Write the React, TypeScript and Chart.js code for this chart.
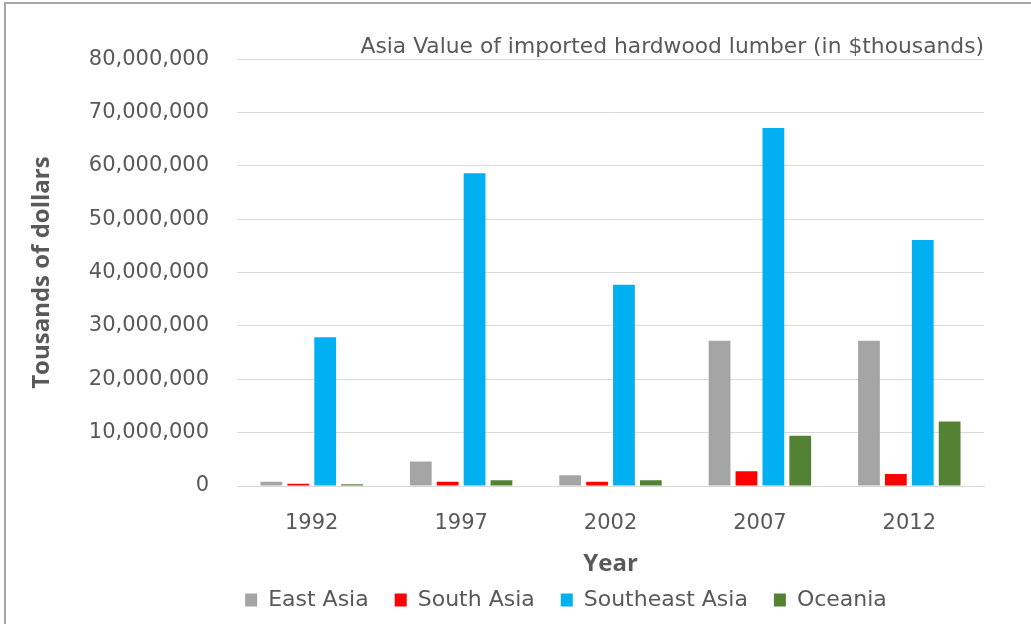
import React, { useEffect, useRef } from "react";
import { Chart, registerables } from "chart.js";

Chart.register(...registerables);

const categories = ["1992", "1997", "2002", "2007", "2012"];
const seriesNames = ["East Asia", "South Asia", "Southeast Asia", "Oceania"];
const eastAsia = [800000, 4600000, 2000000, 27200000, 27200000];
const southAsia = [400000, 800000, 800000, 2750000, 2250000];
const southeastAsia = [27900000, 58600000, 37700000, 67100000, 46100000];
const oceania = [350000, 1070000, 1070000, 9400000, 12100000];
const seriesColors = ["#A5A5A5", "#FF0000", "#00B0F0", "#548235"];
const yMin = 0;
const yMax = 80000000;
const yStep = 10000000;
const titleText = "Asia Value of imported hardwood lumber (in $thousands)";
const xTitle = "Year";
const yTitle = "Tousands of dollars";

const FONT = "'DejaVu Sans', sans-serif";
const BOLD = "'Open Sans', 'DejaVu Sans', sans-serif";
const TEXT = "#595959";

const legendShift = {
  id: "legendShift",
  afterLayout(chart: any) {
    const l = chart.legend;
    if (l) {
      const s = 70;
      l.left += s;
      l.right += s;
    }
  },
};

export default function App() {
  const ref = useRef<HTMLCanvasElement | null>(null);
  useEffect(() => {
    if (!ref.current) return;
    const values = [eastAsia, southAsia, southeastAsia, oceania];
    const chart = new Chart(ref.current, {
      type: "bar",
      data: {
        labels: categories,
        datasets: seriesNames.map((name, i) => ({
          label: name,
          data: values[i],
          backgroundColor: seriesColors[i],
          borderWidth: 0,
          categoryPercentage: 0.72,
          barPercentage: 0.81,
        })),
      },
      plugins: [legendShift],
      options: {
        animation: false,
        responsive: false,
        layout: { padding: { left: 8, right: 47, top: 0, bottom: 3 } },
        plugins: {
          title: {
            display: true,
            text: titleText,
            align: "end",
            color: TEXT,
            font: { family: FONT, size: 21.8, weight: "normal" },
            padding: { top: 34, bottom: -1 },
          },
          legend: {
            position: "bottom",
            labels: {
              color: TEXT,
              font: { family: FONT, size: 22 },
              boxWidth: 12,
              boxHeight: 13,
              padding: 26,
            },
          },
          tooltip: { enabled: false },
        },
        scales: {
          x: {
            grid: { display: false, drawTicks: false },
            border: { display: true, color: "#D9D9D9", width: 1 },
            ticks: {
              color: TEXT,
              font: { family: FONT, size: 21 },
              padding: 25,
            },
            title: {
              display: true,
              text: xTitle,
              color: TEXT,
              font: { family: BOLD, size: 24, weight: "bold" },
              padding: { top: -11, bottom: -16 },
            },
          },
          y: {
            min: yMin,
            max: yMax,
            grid: { color: "#D9D9D9", lineWidth: 1, drawTicks: false },
            border: { display: false },
            ticks: {
              stepSize: yStep,
              color: TEXT,
              font: { family: FONT, size: 21 },
              padding: 28,
              callback: (v: any) => Number(v).toLocaleString("en-US"),
            },
            title: {
              display: true,
              text: yTitle,
              color: TEXT,
              font: { family: BOLD, size: 24, weight: "bold" },
              padding: { top: 20, bottom: 4 },
            },
          },
        },
      },
    });
    return () => chart.destroy();
  }, []);

  return (
    <div
      style={{
        position: "absolute",
        left: 0,
        top: 0,
        width: 1031,
        height: 624,
        background: "#fff",
        overflow: "hidden",
      }}
    >
      <canvas ref={ref} width={1031} height={624} style={{ display: "block" }} />
      <div style={{ position: "absolute", left: 4, top: 2, width: 1040, height: 2, background: "#A6A6A6" }} />
      <div style={{ position: "absolute", left: 4, top: 2, width: 2, height: 640, background: "#A6A6A6" }} />
    </div>
  );
}
